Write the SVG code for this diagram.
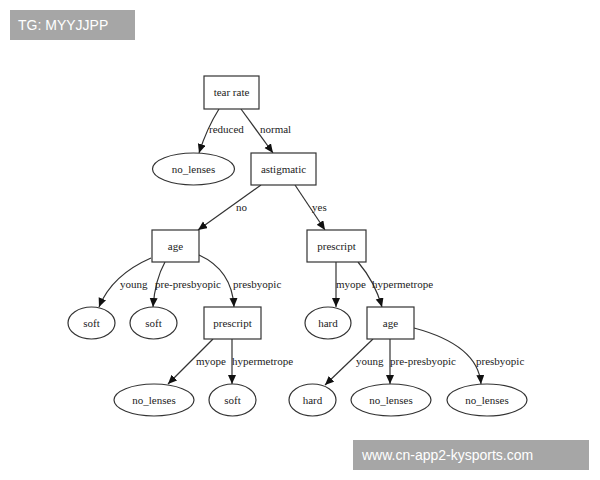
<svg xmlns="http://www.w3.org/2000/svg" width="600" height="480" viewBox="0 0 600 480">
<style>
.n{fill:#fff;stroke:#333;stroke-width:1.2}
.t{font-family:"Liberation Serif",serif;font-size:11px;fill:#222;text-anchor:middle}
.l{font-family:"Liberation Serif",serif;font-size:11px;fill:#222}
.e{fill:none;stroke:#333;stroke-width:1.2;marker-end:url(#a)}
.w{font-family:"Liberation Sans",sans-serif;font-size:14px;fill:#fff}
</style>
<defs><marker id="a" markerUnits="userSpaceOnUse" markerWidth="10" markerHeight="10" refX="9" refY="4" orient="auto"><path d="M0,0 L9,4 L0,8 Z" fill="#111"/></marker></defs>
<rect width="600" height="480" fill="#fff"/>
<g id="connectors">
<path class="e" d="M219,109 Q207,128 199,153"/>
<path class="e" d="M241,109 L273,153"/>
<path class="e" d="M261,185 L198,230"/>
<path class="e" d="M295,185 L325,230"/>
<path class="e" d="M151,258 Q112,275 99,307"/>
<path class="e" d="M165,262 Q155,280 153,307"/>
<path class="e" d="M199,255 Q232,270 234,307"/>
<path class="e" d="M336,262 L336,307"/>
<path class="e" d="M358,262 Q375,282 382,307"/>
<path class="e" d="M213,339 L168,384"/>
<path class="e" d="M232,339 L232,384"/>
<path class="e" d="M373,339 L325,385"/>
<path class="e" d="M390,339 L390,384"/>
<path class="e" d="M414,328 Q478,345 481,384"/>
<text class="l" x="209" y="133">reduced</text>
<text class="l" x="260" y="133">normal</text>
<text class="l" x="236" y="211">no</text>
<text class="l" x="312" y="211">yes</text>
<text class="l" x="120" y="288">young</text>
<text class="l" x="155" y="288">pre-presbyopic</text>
<text class="l" x="233" y="288">presbyopic</text>
<text class="l" x="336" y="288">myope</text>
<text class="l" x="372" y="288">hypermetrope</text>
<text class="l" x="196" y="365">myope</text>
<text class="l" x="232" y="365">hypermetrope</text>
<text class="l" x="356" y="365">young</text>
<text class="l" x="390" y="365">pre-presbyopic</text>
<text class="l" x="476" y="365">presbyopic</text>
</g>
<g id="tear_rate"><rect class="n" x="204" y="76" width="55" height="33"/><text class="t" x="231.5" y="96">tear rate</text></g>
<g id="no_lenses1"><ellipse class="n" cx="193.5" cy="169" rx="41" ry="16"/><text class="t" x="193.5" y="173">no_lenses</text></g>
<g id="astigmatic"><rect class="n" x="251" y="153" width="65" height="32"/><text class="t" x="283.5" y="173">astigmatic</text></g>
<g id="age1"><rect class="n" x="152" y="230" width="47" height="32"/><text class="t" x="175.5" y="250">age</text></g>
<g id="prescript1"><rect class="n" x="307" y="230" width="59" height="32"/><text class="t" x="336.5" y="250">prescript</text></g>
<g id="soft1"><ellipse class="n" cx="91.5" cy="323" rx="23.5" ry="16"/><text class="t" x="91.5" y="327">soft</text></g>
<g id="soft2"><ellipse class="n" cx="153.5" cy="323" rx="23.5" ry="16"/><text class="t" x="153.5" y="327">soft</text></g>
<g id="prescript2"><rect class="n" x="204" y="307" width="57" height="32"/><text class="t" x="232.5" y="327">prescript</text></g>
<g id="hard1"><ellipse class="n" cx="328" cy="323" rx="23" ry="16"/><text class="t" x="328" y="327">hard</text></g>
<g id="age2"><rect class="n" x="367" y="307" width="47" height="32"/><text class="t" x="390.5" y="327">age</text></g>
<g id="no_lenses2"><ellipse class="n" cx="154" cy="400" rx="40" ry="16"/><text class="t" x="154" y="404">no_lenses</text></g>
<g id="soft3"><ellipse class="n" cx="232.5" cy="400" rx="23.5" ry="16"/><text class="t" x="232.5" y="404">soft</text></g>
<g id="hard2"><ellipse class="n" cx="312.5" cy="400" rx="23.5" ry="16"/><text class="t" x="312.5" y="404">hard</text></g>
<g id="no_lenses3"><ellipse class="n" cx="391" cy="400" rx="40" ry="16"/><text class="t" x="391" y="404">no_lenses</text></g>
<g id="no_lenses4"><ellipse class="n" cx="487" cy="400" rx="40" ry="16"/><text class="t" x="487" y="404">no_lenses</text></g>
<rect x="10" y="10" width="125" height="30" fill="#a6a6a6"/><text class="w" x="18" y="30">TG: MYYJJPP</text>
<rect x="353" y="440" width="236" height="30" fill="#a6a6a6"/><text class="w" x="362" y="460">www.cn-app2-kysports.com</text>
</svg>
